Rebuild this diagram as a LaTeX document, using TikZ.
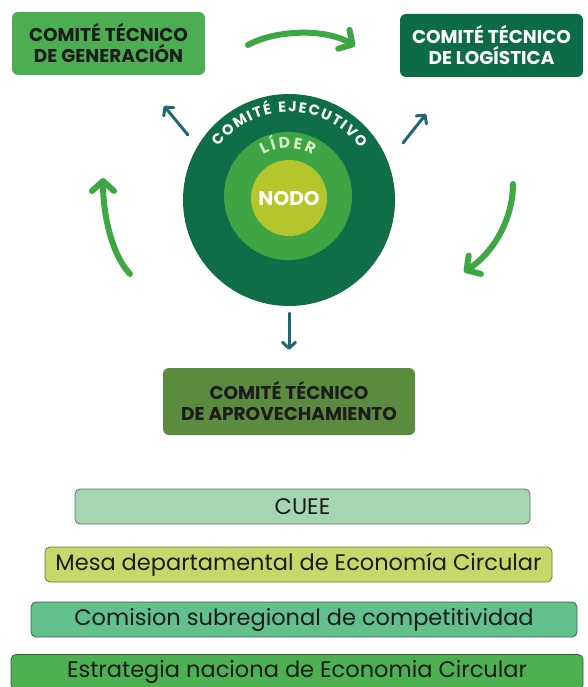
\documentclass[tikz,border=0pt]{standalone}
\usepackage{fontspec}
\setmainfont{Poppins}
\usetikzlibrary{arrows.meta, positioning, decorations.text}

\definecolor{genGreen}{HTML}{4DAD52}
\definecolor{logGreen}{HTML}{0E6B47}
\definecolor{aprGreen}{HTML}{5A8B3E}
\definecolor{ejeGreen}{HTML}{0F6E48}
\definecolor{liderGreen}{HTML}{3FA444}
\definecolor{nodoGreen}{HTML}{B4C62B}
\definecolor{cycleGreen}{HTML}{3DA843}
\definecolor{arrowTeal}{HTML}{1F6A72}
\definecolor{cueeGreen}{HTML}{A6D5B1}
\definecolor{mesaGreen}{HTML}{C6D86A}
\definecolor{comiGreen}{HTML}{62C08C}
\definecolor{estrGreen}{HTML}{4DB152}
\definecolor{textDark}{HTML}{1C1C1C}
\definecolor{liderText}{HTML}{D6EFC8}

\newcommand\comitefont{\fontsize{18.5}{21}\selectfont\bfseries}
\newcommand\nivelfont{\fontsize{22.5}{24}\selectfont}
\newcommand\ejefont{\fontsize{14.5}{16}\selectfont\bfseries}
\newcommand\liderfont{\fontsize{15.5}{17}\selectfont\bfseries}

\begin{document}
\begin{tikzpicture}[x=1pt, y=-1pt,
    % Define styles
    comite/.style={rectangle, rounded corners=6pt, inner sep=0pt, align=center, font=\comitefont},
    nivel/.style={rectangle, rounded corners=5pt, draw=#1!55!black, fill=#1, line width=0.8pt, inner sep=0pt, minimum height=35pt, font=\nivelfont, text=textDark},
    anillo/.style={circle, inner sep=0pt, text=white},
    ciclo/.style={-{Straight Barb[round, length=10pt, width=22pt]}, line width=6pt, line cap=round, cycleGreen},
    flecha/.style={-{Straight Barb[round, length=6pt, width=13pt]}, line width=3pt, line cap=round, arrowTeal}
  ]
  \clip (0,0) rectangle (587,687);
  \fill[white] (0,0) rectangle (587,687);

  % Committees
  \node[comite, fill=genGreen, text=textDark, minimum width=193pt, minimum height=63pt] (generacion) at (108.5,43.5) {COMITÉ TÉCNICO\\DE GENERACIÓN};
  \node[comite, fill=logGreen, text=white, minimum width=183pt, minimum height=63pt] (logistica) at (491.5,45.5) {COMITÉ TÉCNICO\\DE LOGÍSTICA};
  \node[comite, fill=aprGreen, text=textDark, minimum width=252pt, minimum height=67pt] (aprovechamiento) at (289,401.5) {COMITÉ TÉCNICO\\DE APROVECHAMIENTO};

  % Rings
  \node[anillo, fill=ejeGreen, minimum size=212pt] (ejecutivo) at (289,200) {};
  \node[anillo, fill=liderGreen, minimum size=128pt] (lider) at (288,196) {};
  \node[anillo, fill=nodoGreen, minimum size=76pt, font=\fontsize{20}{22}\selectfont\bfseries] (nodo) at (289,198) {NODO};

  \path[decorate, decoration={text along path, text align=fit to path,
      text={|\ejefont\color{white}|COMITÉ EJECUTIVO}}]
    ([shift={(-143:88)}]ejecutivo.center) arc[start angle=-143, end angle=-36, radius=88];
  \path[decorate, decoration={text along path, text align=fit to path,
      text={|\liderfont\color{liderText}|LÍDER}}]
    ([shift={(-121:48)}]lider.center) arc[start angle=-121, end angle=-59, radius=48];

  % Cycle arrows
  \coordinate (topTail) at (248,45);
  \coordinate (topTip) at (355,46);
  \coordinate (rightTail) at (513,184);
  \coordinate (rightTip) at (464,272);
  \coordinate (leftTail) at (130,274);
  \coordinate (leftTip) at (103,178);
  \draw[ciclo] (topTail) .. controls (275,30) and (325,28) .. (topTip);
  \draw[ciclo] (rightTail) .. controls (513,215) and (497,250) .. (rightTip);
  \draw[ciclo] (leftTail) .. controls (112,255) and (103,215) .. (leftTip);

  % Links from the executive committee
  \coordinate (upLeftTail) at (188,135);
  \coordinate (upLeftTip) at (164,106);
  \coordinate (upRightTail) at (403,143);
  \coordinate (upRightTip) at (426,114);
  \draw[flecha] (upLeftTail) -- (upLeftTip);
  \draw[flecha] (upRightTail) -- (upRightTip);
  \draw[flecha, shorten <=7pt, shorten >=18pt] (ejecutivo.south) -- (aprovechamiento.north);

  % Levels
  \node[nivel=cueeGreen, minimum width=455pt] (cuee) at (302.5,506.5) {CUEE};
  \node[nivel=mesaGreen, minimum width=507pt] (mesa) at (298.5,564.5) {Mesa departamental de Economía Circular};
  \node[nivel=comiGreen, minimum width=546pt] (comision) at (304,619.5) {Comision subregional de competitividad};
  \node[nivel=estrGreen, minimum width=572pt] (estrategia) at (297,672) {Estrategia naciona de Economia Circular};

\end{tikzpicture}
\end{document}
